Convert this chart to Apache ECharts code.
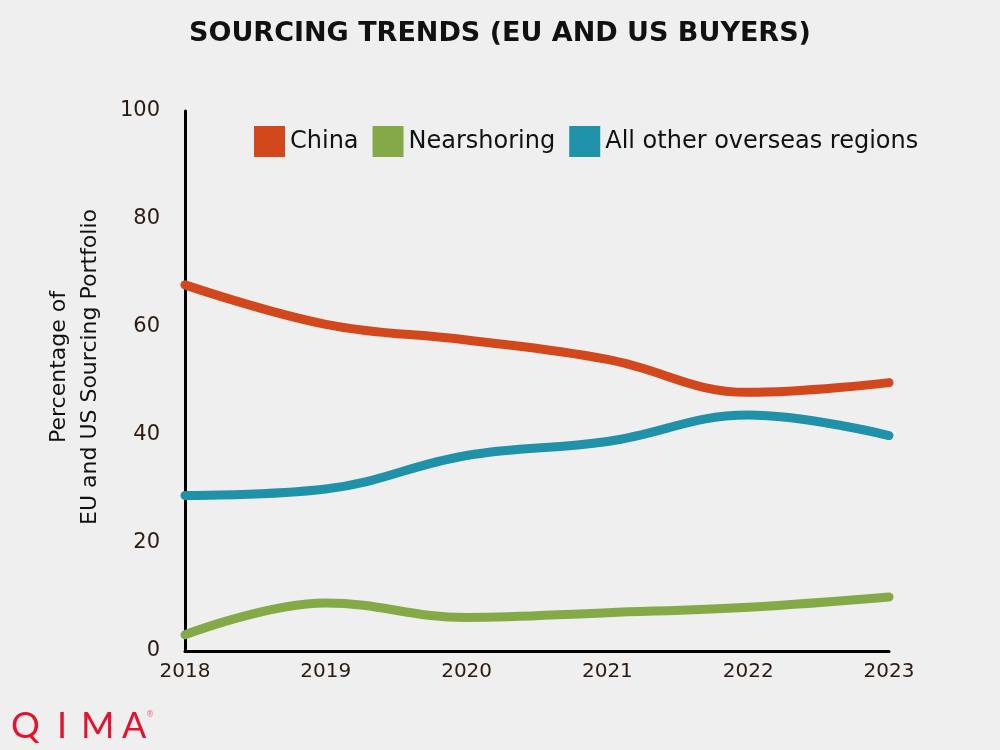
<!DOCTYPE html>
<html><head><meta charset="utf-8">
<script src="https://cdn.jsdelivr.net/npm/echarts@6/dist/echarts.min.js"></script>
<style>html,body{margin:0;padding:0;background:#efefef}#c{width:1000px;height:750px}</style>
</head><body><div id="c"></div>
<script>
const years = ['2018','2019','2020','2021','2022','2023'];
const china = [67.8, 60.5, 57.6, 54.0, 47.9, 49.7];
const nearshoring = [3.0, 8.9, 6.2, 7.1, 8.1, 10.0];
const otherRegions = [28.8, 30.0, 36.2, 38.8, 43.7, 39.9];
const yTicks = [0, 20, 40, 60, 80, 100];
const yAxisTitle = 'Percentage of\nEU and US Sourcing Portfolio';

const chart = echarts.init(document.getElementById('c'));
const font = '"DejaVu Sans", Verdana, sans-serif';
const logoStyle = {fontFamily: 'Lato, sans-serif', fontSize: 36, fill: '#e8112d'};
chart.setOption({
  backgroundColor: '#efefef',
  animation: false,
  title: {
    text: 'SOURCING TRENDS (EU AND US BUYERS)',
    left: 'center', top: 15,
    textStyle: {fontFamily: font, fontWeight: 'bold', fontSize: 27, color: '#111'}
  },
  legend: {
    top: 121, left: 249,
    itemWidth: 31, itemHeight: 31, itemGap: 14,
    icon: 'rect',
    textStyle: {fontFamily: font, fontSize: 24, color: '#111', padding: [0,0,0,0]},
    data: ['China', 'Nearshoring', 'All other overseas regions']
  },
  grid: {left: 185, right: 111, top: 111, bottom: 99},
  xAxis: {
    type: 'category', data: years, boundaryGap: false,
    axisLine: {lineStyle: {color: '#000', width: 3}},
    axisTick: {show: false},
    axisLabel: {fontFamily: font, fontSize: 20, color: '#2a1a12', margin: 11},
    splitLine: {show: false}
  },
  yAxis: {
    type: 'value', min: 0, max: 100, interval: 20,
    axisLine: {show: true, lineStyle: {color: '#000', width: 3}},
    axisTick: {show: false},
    splitLine: {show: false},
    axisLabel: {fontFamily: font, fontSize: 21, color: '#2a1a12', margin: 25,
      formatter: v => yTicks.includes(v) ? String(v) : ''}
  },
  series: [
    {name: 'China', type: 'line', data: china, smooth: 0.4, symbol: 'none',
     itemStyle: {color: '#d3471c'}, lineStyle: {width: 9, color: '#d3471c', cap: 'round'}},
    {name: 'Nearshoring', type: 'line', data: nearshoring, smooth: 0.4, symbol: 'none',
     itemStyle: {color: '#84aa48'}, lineStyle: {width: 9, color: '#84aa48', cap: 'round'}},
    {name: 'All other overseas regions', type: 'line', data: otherRegions, smooth: 0.4, symbol: 'none',
     itemStyle: {color: '#1f91a8'}, lineStyle: {width: 9, color: '#1f91a8', cap: 'round'}}
  ],
  graphic: [
    {type: 'text', x: 75, y: 367, rotation: Math.PI / 2,
     style: {text: yAxisTitle, fontFamily: font, fontSize: 22, fill: '#111', lineHeight: 31,
             align: 'center', verticalAlign: 'middle'}},
    {type: 'text', left: 11, top: 708, style: Object.assign({text: 'Q'}, logoStyle)},
    {type: 'text', left: 57, top: 708, style: Object.assign({text: 'I'}, logoStyle)},
    {type: 'text', left: 81, top: 708, style: Object.assign({text: 'M'}, logoStyle)},
    {type: 'text', left: 122, top: 708, style: Object.assign({text: 'A'}, logoStyle)},
    {type: 'text', left: 146, top: 711,
     style: {text: '®', fontFamily: font, fontSize: 8, fill: '#ef6a7a'}}
  ]
});
</script></body></html>
